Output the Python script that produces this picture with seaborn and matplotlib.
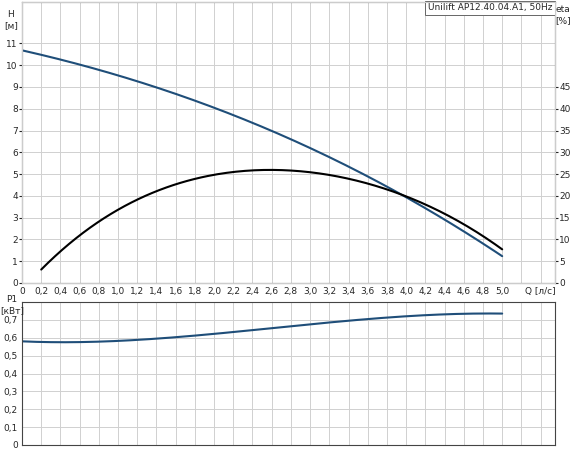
import matplotlib
matplotlib.use("Agg")
import matplotlib.pyplot as plt
import seaborn as sns
import numpy as np
import pandas as pd
from matplotlib.ticker import FuncFormatter

sns.set_style("whitegrid")
plt.rcParams['font.family'] = ['DejaVu Sans']

q_h = [0.0, 0.4, 1.0, 1.6, 2.0, 2.6, 3.0, 3.6, 4.0, 4.4, 5.0]
h_vals = [10.7, 10.25, 9.5, 8.65, 8.1, 7.0, 6.2, 4.9, 3.9, 2.9, 1.25]
q_eta = [0.2, 0.6, 1.0, 1.4, 2.0, 2.6, 3.0, 3.4, 3.8, 4.2, 4.6, 5.0]
eta_vals = [3.0, 11.0, 17.0, 21.0, 24.5, 26.0, 25.75, 24.0, 21.25, 18.0, 13.5, 7.75]
q_p = [0.0, 0.4, 0.8, 1.2, 1.6, 2.0, 2.4, 2.8, 3.2, 3.6, 4.0, 4.4, 4.8, 5.0]
p_vals = [0.58, 0.575, 0.578, 0.588, 0.603, 0.622, 0.643, 0.664, 0.685, 0.705, 0.72, 0.731, 0.736, 0.735]

def smooth(x, y, deg=4, n=200):
    xs = np.linspace(min(x), max(x), n)
    c = np.polyfit(x, y, deg)
    return pd.DataFrame({"q": xs, "v": np.polyval(c, xs)})

fig = plt.figure(figsize=(5.7, 4.5), dpi=100)
ax1 = fig.add_axes([22/570, 1-283/450, 533/570, 281/450])
ax3 = fig.add_axes([22/570, 1-445/450, 533/570, 143/450])
ax2 = ax1.twinx()

blue = "#1f4e79"
sns.lineplot(data=smooth(q_h, h_vals, 3), x="q", y="v", ax=ax1, color=blue, lw=1.5)
sns.lineplot(data=smooth(q_eta, eta_vals, 4), x="q", y="v", ax=ax2, color="black", lw=1.5)
sns.lineplot(data=smooth(q_p, p_vals, 4), x="q", y="v", ax=ax3, color=blue, lw=1.5)

xt = np.round(np.arange(0, 5.01, 0.2), 1)
for ax in (ax1, ax3):
    ax.set_xlim(0, 5.55)
    ax.set_xticks(list(xt) + [5.2, 5.4])
    ax.grid(True, color="#d0d0d0", lw=0.7)
    for s in ax.spines.values():
        s.set_color("#444444"); s.set_linewidth(0.8)
    ax.tick_params(labelsize=6.5, length=2, pad=1)
labels = [f"{v:.1f}".replace(".", ",") if v > 0 else "0" for v in xt] + ["", "Q [л/с]"]
ax1.set_xticklabels(labels)
ax3.set_xticklabels([])

ax1.set_ylim(0, 12.9)
ax1.set_yticks(range(0, 12))
ax2.set_ylim(0, 12.9 * 5)
ax2.set_yticks(range(0, 50, 5))
ax2.grid(False)
ax2.tick_params(labelsize=6.5, length=2, pad=1)
ax3.set_ylim(0, 0.8)
ax3.set_yticks(np.round(np.arange(0, 0.71, 0.1), 1))
ax3.yaxis.set_major_formatter(FuncFormatter(lambda v, p: "0" if v == 0 else f"{v:.1f}".replace(".", ",")))
for ax in (ax1, ax2, ax3):
    ax.set_xlabel(""); ax.set_ylabel("")

fig.text(11/570, 1-20/450, "H\n[м]", fontsize=6.5, ha="center", va="center")
fig.text(563/570, 1-15/450, "eta\n[%]", fontsize=6.5, ha="center", va="center")
fig.text(12/570, 1-305/450, "P1\n[кВт]", fontsize=6.5, ha="center", va="center")
ax1.text(0.995, 0.995, "Unilift AP12.40.04.A1, 50Hz", transform=ax1.transAxes,
         fontsize=6.5, ha="right", va="top",
         bbox=dict(boxstyle="square,pad=0.3", fc="white", ec="#666666", lw=0.7))

fig.savefig("out.png", dpi=100)
